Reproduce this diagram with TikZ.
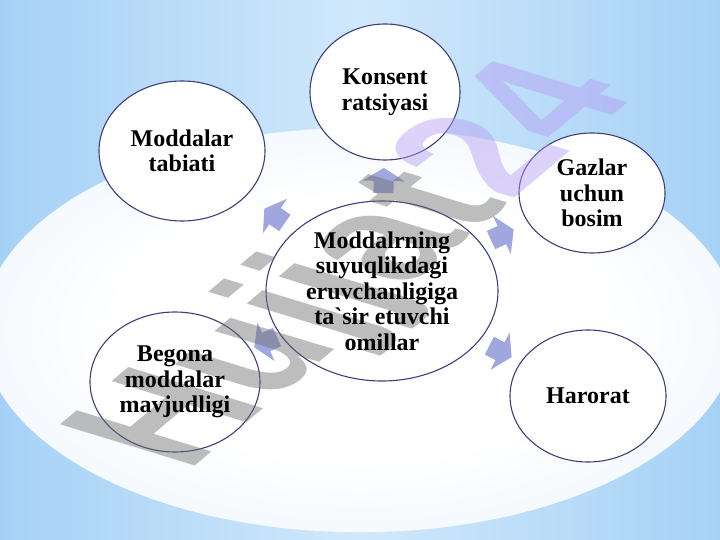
\documentclass[tikz,border=0pt]{standalone}
\usepackage{fontspec}
\setmainfont{Liberation Serif}
\newfontfamily\wmfont{Liberation Sans}
\usetikzlibrary{shapes.geometric,calc}
\definecolor{bgblue}{HTML}{A6D1F6}
\definecolor{bglight}{HTML}{D0E8FB}
\definecolor{glowedge}{HTML}{BCDCF8}
\definecolor{glowmid}{HTML}{E8F3FD}
\definecolor{ringcol}{HTML}{3E3E7E}
\definecolor{arrowcol}{HTML}{A0A6DE}
\definecolor{wmgrey}{HTML}{6E6E6E}
\definecolor{wmlav}{HTML}{B49CF2}
\pgfdeclareradialshading{glow}{\pgfpoint{0bp}{0bp}}{color(0bp)=(white); color(16bp)=(white); color(36bp)=(glowmid); color(50bp)=(glowedge)}
\tikzset{
  ring/.style={ellipse, draw=ringcol, line width=1.1pt, fill=white, inner sep=0pt},
  ringtext/.style={inner sep=0pt, align=center, text=black, font=\fontsize{24}{25.5}\selectfont\bfseries},
  barrow/.pic={\fill[arrowcol] (-12,-10) -- (0,-10) -- (0,-21) -- (13,0) -- (0,21) -- (0,10) -- (-12,10) -- cycle;}
}
\begin{document}
\begin{tikzpicture}[x=1pt,y=-1pt]
\useasboundingbox (0,0) rectangle (720,540);
\clip (0,0) rectangle (720,540);
% background
\shade[left color=bgblue, right color=bgblue, middle color=bglight] (0,0) rectangle (720,540);
\begin{scope}[shift={(360,330)}, yscale=0.535]
\shade[shading=glow] (0,0) circle [radius=378];
\end{scope}
% node positions (centre and satellites)
\coordinate (cc) at (382,291);
\coordinate (kc) at (385,92);
\coordinate (mc) at (182,151);
\coordinate (gc) at (592,193);
\coordinate (hc) at (588,396);
\coordinate (bc) at (175,382);
% block arrows from centre towards satellites
\pic[rotate=89]  at ($(cc)!0.553!(kc)$) {barrow};
\pic[rotate=145] at ($(cc)!0.535!(mc)$) {barrow};
\pic[rotate=25]  at ($(cc)!0.571!(gc)$) {barrow};
\pic[rotate=-27] at ($(cc)!0.573!(hc)$) {barrow};
\pic[rotate=204] at ($(cc)!0.560!(bc)$) {barrow};
% ellipses
\node[ring, minimum width=232pt, minimum height=180pt] (c) at (cc) {};
\node[ring, minimum width=150pt, minimum height=136pt] (k) at (kc) {};
\node[ring, minimum width=166pt, minimum height=140pt] (m) at (mc) {};
\node[ring, minimum width=146pt, minimum height=120pt] (g) at (gc) {};
\node[ring, minimum width=156pt, minimum height=132pt] (h) at (hc) {};
\node[ring, minimum width=170pt, minimum height=140pt] (b) at (bc) {};
% watermark
\begin{scope}[shift={(187,473)}]
\node[transform shape, cm={1.162,0.975,-1.960,0.599,(0,0)}, anchor=base west, inner sep=0pt,
  font=\wmfont\bfseries\fontsize{100}{100}\selectfont, opacity=0.45, text opacity=0.45] (wm) at (0,0)
  {\textcolor{wmgrey}{Hujjat}\textcolor{wmlav}{24}};
\end{scope}
% texts
\node[ringtext] (ct) at (c) {Moddalrning\\suyuqlikdagi\\eruvchanligiga\\ta\textasciigrave sir etuvchi\\omillar};
\node[ringtext] (kt) at (k) {Konsent\\ratsiyasi};
\node[ringtext] (mt) at (m) {Moddalar\\tabiati};
\node[ringtext] (gt) at (g) {Gazlar\\uchun\\bosim};
\node[ringtext] (ht) at (h) {Harorat};
\node[ringtext] (bt) at (b) {Begona\\moddalar\\mavjudligi};
\end{tikzpicture}
\end{document}
